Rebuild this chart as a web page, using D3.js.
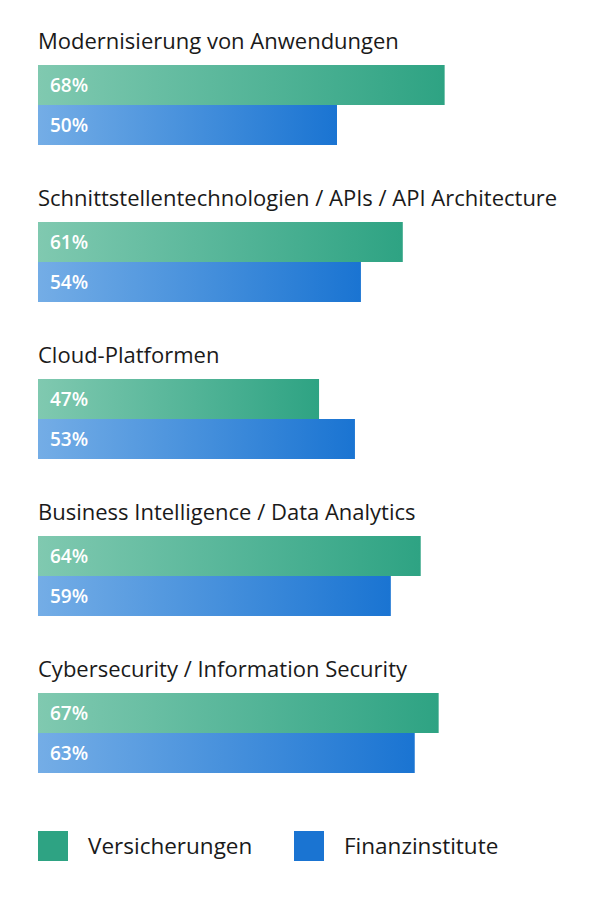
<!DOCTYPE html>
<html>
<head>
<meta charset="utf-8">
<script src="https://cdn.jsdelivr.net/npm/d3@7"></script>
<style>
  body { margin: 0; background: #fff; }
  text { font-family: "Open Sans", sans-serif; }
</style>
</head>
<body>
<svg id="chart"></svg>
<script>
const width = 600;
const height = 900;

const categories = [
  'Modernisierung von Anwendungen',
  'Schnittstellentechnologien / APIs / API Architecture',
  'Cloud-Platformen',
  'Business Intelligence / Data Analytics',
  'Cybersecurity / Information Security'
];
const versicherungen = [68, 61, 47, 64, 67];
const finanzinstitute = [50, 54, 53, 59, 63];
const seriesNames = ['Versicherungen', 'Finanzinstitute'];

const left = 38;
const groupTop = 65;
const groupStep = 157;
const barHeight = 40;

const svg = d3.select('#chart')
  .attr('width', width)
  .attr('height', height);

const defs = svg.append('defs');
const gradients = [
  {id: 'gradGreen', from: '#80c9b0', to: '#2ea383'},
  {id: 'gradBlue', from: '#74ade6', to: '#1a74d2'}
];
gradients.forEach(g => {
  const lg = defs.append('linearGradient')
    .attr('id', g.id)
    .attr('x1', '0%').attr('x2', '100%')
    .attr('y1', '0%').attr('y2', '0%');
  lg.append('stop').attr('offset', '0%').attr('stop-color', g.from);
  lg.append('stop').attr('offset', '100%').attr('stop-color', g.to);
});

const x = d3.scaleLinear().domain([0, 100]).range([left, left + 598]);
const y = d3.scaleBand().domain(categories).range([groupTop, groupTop + groupStep * categories.length]);

const data = categories.map((c, i) => ({
  category: c,
  values: [versicherungen[i], finanzinstitute[i]]
}));

const groups = svg.selectAll('g.group')
  .data(data)
  .enter()
  .append('g')
  .attr('class', 'group')
  .attr('transform', d => `translate(0, ${y(d.category)})`);

groups.append('text')
  .attr('x', left)
  .attr('y', -16)
  .attr('font-size', 22)
  .attr('fill', '#1a1a1a')
  .text(d => d.category);

groups.each(function (d) {
  const g = d3.select(this);
  d.values.forEach((v, j) => {
    g.append('rect')
      .attr('x', x(0))
      .attr('y', j * barHeight)
      .attr('width', x(v) - x(0))
      .attr('height', barHeight)
      .attr('fill', `url(#${gradients[j].id})`);
    g.append('text')
      .attr('x', left + 12)
      .attr('y', j * barHeight + 27)
      .attr('font-size', 19)
      .attr('font-weight', 600)
      .attr('fill', '#fff')
      .text(v + '%');
  });
});

const legendColors = ['#2ea383', '#1a74d2'];
const legendX = [38, 294];
const legend = svg.selectAll('g.legend')
  .data(seriesNames)
  .enter()
  .append('g')
  .attr('class', 'legend')
  .attr('transform', (d, i) => `translate(${legendX[i]}, 831)`);

legend.append('rect')
  .attr('width', 30)
  .attr('height', 30)
  .attr('fill', (d, i) => legendColors[i]);

legend.append('text')
  .attr('x', 50)
  .attr('y', 23)
  .attr('font-size', 22.5)
  .attr('fill', '#1a1a1a')
  .text(d => d);
</script>
</body>
</html>
